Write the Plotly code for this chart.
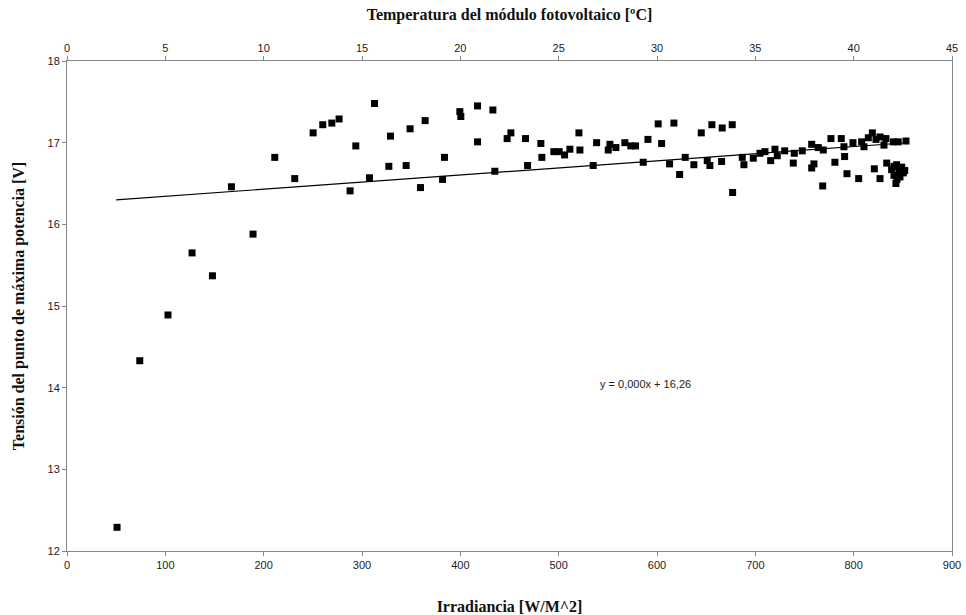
import plotly.graph_objects as go
import numpy as np

# Irradiance [W/m^2] and voltage at max power point [V]
irradiance = [50.9, 74, 102.7, 127.2, 147.9, 167.2, 189.2, 211.3, 231.6, 250.3,
              260.1, 269.3, 276.7, 287.9, 293.7, 307.6, 312.7, 327.3, 329, 344.9,
              348.9, 359.5, 364.2, 381.9, 383.9, 399.5, 400.5, 417.5, 417.5, 433.1,
              435.1, 447.6, 451.4, 466.3, 468.4, 481.9, 482.9, 495.1, 500.5, 506,
              511.4, 520.6, 521.6, 535.1, 538.6, 550.4, 552.1, 558.2, 567.3, 573.4,
              578.2, 586, 590.8, 601.2, 604.7, 612.8, 617.2, 623, 628.7, 637.5,
              645, 651.1, 653.8, 655.8, 665.7, 666.3, 676.5, 676.9, 686.7, 688.4,
              697.9, 704.7, 709.8, 715.6, 720, 722.3, 729.8, 738.6, 739.6, 747.7,
              757.3, 757.3, 759.6, 764, 769.1, 768.5, 776.9, 780.9, 787.4, 790.1,
              790.8, 793.2, 799.3, 805.1, 808.1, 810.5, 814.9, 819, 821, 822.7,
              826.8, 826.8, 830.8, 832.8, 833.6, 838.6, 840.3, 841, 843, 843.7,
              845.3, 847.1, 848.8, 850.5, 851.9, 853.2, 841, 844, 846]
voltage = [12.29, 14.33, 14.89, 15.65, 15.37, 16.46, 15.88, 16.82, 16.56, 17.12,
           17.22, 17.24, 17.29, 16.41, 16.96, 16.57, 17.48, 16.71, 17.08, 16.72,
           17.17, 16.45, 17.27, 16.55, 16.82, 17.38, 17.32, 17.45, 17.01, 17.40,
           16.65, 17.05, 17.12, 17.05, 16.72, 16.99, 16.82, 16.89, 16.89, 16.85,
           16.92, 17.12, 16.91, 16.72, 17.00, 16.91, 16.98, 16.94, 17.00, 16.96,
           16.96, 16.76, 17.04, 17.23, 16.99, 16.74, 17.24, 16.61, 16.82, 16.73,
           17.12, 16.78, 16.72, 17.22, 16.77, 17.18, 17.22, 16.39, 16.82, 16.73,
           16.81, 16.87, 16.89, 16.78, 16.92, 16.84, 16.90, 16.75, 16.87, 16.90,
           16.98, 16.69, 16.74, 16.94, 16.91, 16.47, 17.05, 16.76, 17.05, 16.95,
           16.83, 16.62, 17.00, 16.56, 17.01, 16.95, 17.06, 17.12, 16.68, 17.04,
           16.56, 17.07, 16.97, 17.05, 16.75, 16.67, 17.01, 16.60, 16.50, 16.73,
           17.01, 16.58, 16.70, 16.63, 16.66, 17.02, 16.71, 16.55, 16.65]

# Linear trendline (as shown by the chart)
trend_slope = 0.00087
trend_intercept = 16.256
trend_x = [50, 854]
trend_y = [trend_intercept + trend_slope * v for v in trend_x]
trend_label = "y = 0,000x + 16,26"

x_ticks = list(range(0, 901, 100))
temp_ticks = list(range(0, 46, 5))
y_ticks = list(range(12, 19))

axis_col = "#878787"
tick_font = dict(family="Liberation Sans Narrow, Liberation Sans, Arial", size=11, color="#222")
title_font = dict(family="Liberation Serif, Times New Roman, serif", size=16, color="#111")

fig = go.Figure()
fig.add_trace(go.Scatter(x=irradiance, y=voltage, mode="markers",
                         marker=dict(symbol="square", size=7, color="black"),
                         showlegend=False, hoverinfo="x+y"))
fig.add_trace(go.Scatter(x=trend_x, y=trend_y, mode="lines",
                         line=dict(color="black", width=1.2),
                         showlegend=False, hoverinfo="skip"))
# anchor trace for top (temperature) axis
fig.add_trace(go.Scatter(x=[None], y=[None], xaxis="x2", mode="markers",
                         showlegend=False, hoverinfo="skip"))

fig.add_annotation(x=588.7, y=14.05, text=trend_label, showarrow=False,
                   font=dict(family="Liberation Sans Narrow, Liberation Sans, Arial", size=11, color="#222"))

fig.update_layout(
    width=966, height=615,
    margin=dict(l=67, r=14, t=61, b=64),
    paper_bgcolor="white", plot_bgcolor="white",
    xaxis=dict(range=[0, 900], tickvals=x_ticks, showgrid=False, zeroline=False,
               showline=True, linecolor=axis_col, linewidth=1, mirror=False,
               ticks="outside", ticklen=4, tickcolor=axis_col, tickfont=tick_font,
               automargin=False,
               title=dict(text="<b>Irradiancia [W/M^2]</b>", font=title_font, standoff=30)),
    xaxis2=dict(range=[0, 45], tickvals=temp_ticks, overlaying="x", side="top",
                anchor="y", showgrid=False, zeroline=False,
                showline=True, linecolor=axis_col, linewidth=1,
                ticks="outside", ticklen=4, tickcolor=axis_col, tickfont=tick_font,
                automargin=False,
                title=dict(text="<b>Temperatura del módulo fotovoltaico [ºC]</b>", font=title_font, standoff=16)),
    yaxis=dict(range=[12, 18], tickvals=y_ticks, showgrid=False, zeroline=False,
               showline=True, linecolor=axis_col, linewidth=1, mirror=True,
               ticks="outside", ticklen=4, tickcolor=axis_col, tickfont=tick_font,
               automargin=False,
               title=dict(text="<b>Tensión del punto de máxima potencia [V]</b>", font=title_font, standoff=18)),
)

fig.write_html("out.html")
